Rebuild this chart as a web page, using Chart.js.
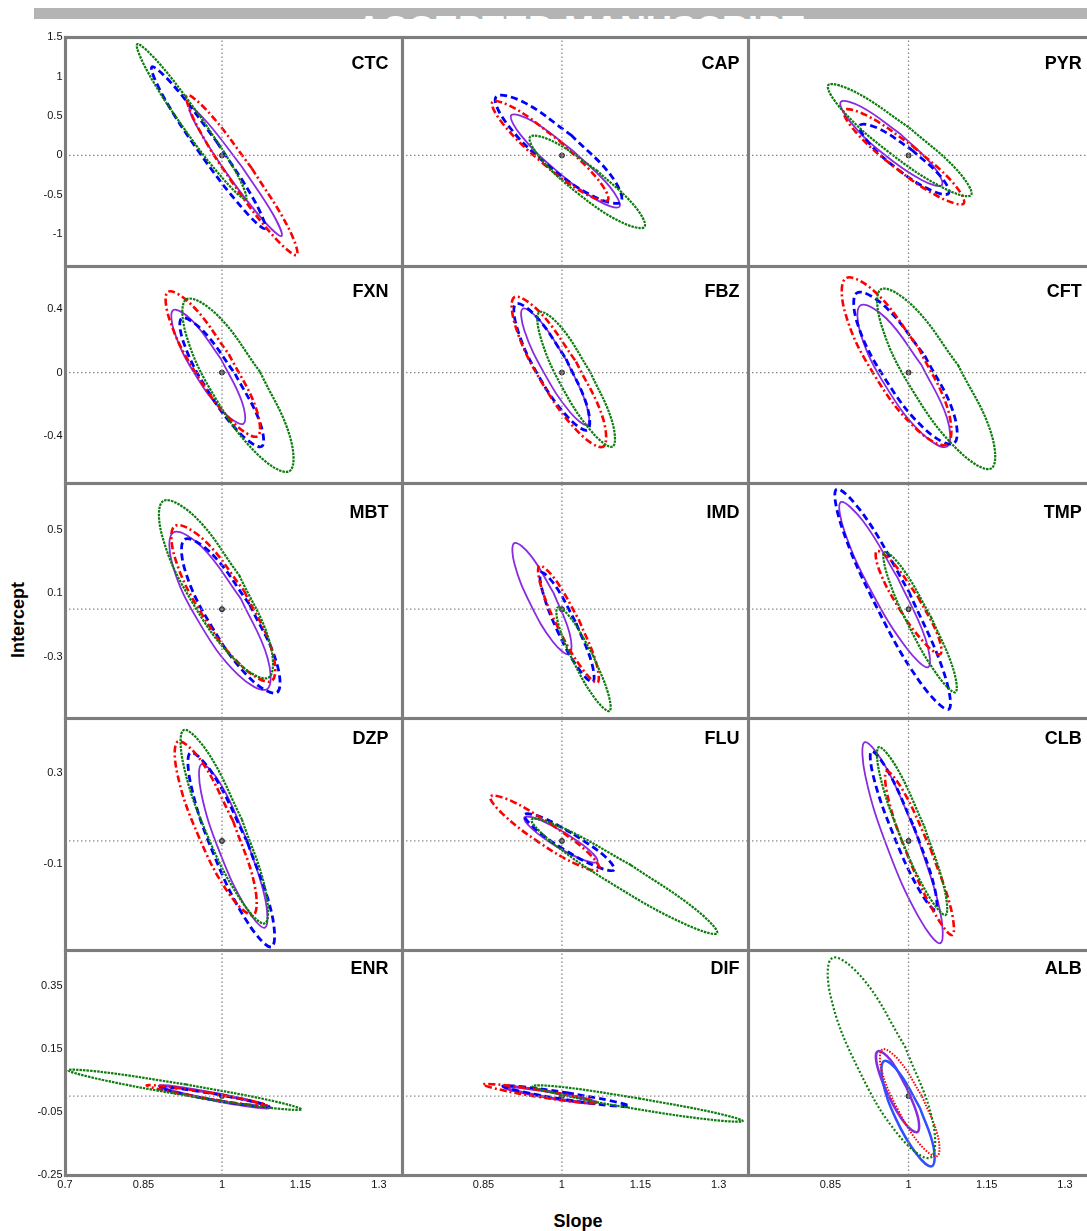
<!DOCTYPE html>
<html lang="en">
<head>
<meta charset="UTF-8" />
<title>Slope / intercept confidence ellipses</title>
<script src="https://cdn.jsdelivr.net/npm/chart.js@4.4.1/dist/chart.umd.min.js"></script>
<style>
  body { margin: 0; background: #ffffff; font-family: Arial, "Liberation Sans", sans-serif; }
  #page { position: relative; width: 1087px; height: 1231px; overflow: hidden; }
  #page canvas { position: absolute; z-index: 1; }
  .frame { position: absolute; background: #7d7d7d; box-shadow: 0 0 1px #b0b0b0; z-index: 3; }
  .panel-label { position: absolute; width: 100px; text-align: right; font-weight: bold; font-size: 18px; line-height: 18px; color: #000; z-index: 4; }
  .axis-title { position: absolute; font-weight: bold; font-size: 18px; line-height: 18px; color: #000; }
  #banner { position: absolute; left: 34px; top: 8px; width: 1053px; height: 11px; background: #b4b4b4; }
  #watermark { position: absolute; left: 0; width: 1160px; top: 12px; text-align: center; font-weight: bold; font-size: 36px; line-height: 36px; color: #fff; }
</style>
</head>
<body>
<div id="page">
  <div id="banner"></div>
  <div id="watermark">ACCEPTED MANUSCRIPT</div>
  <div class="axis-title" style="left:-22px; top:611px; width:80px; text-align:center; transform:rotate(-90deg);">Intercept</div>
  <div class="axis-title" style="left:528px; top:1212px; width:100px; text-align:center;">Slope</div>
</div>

<script>
// panels, left to right, top to bottom
const panelNames = ["CTC", "CAP", "PYR", "FXN", "FBZ", "CFT", "MBT", "IMD", "TMP", "DZP", "FLU", "CLB", "ENR", "DIF", "ALB"];

// axis ranges and ticks (x per column, y per row)
const xRanges = [[0.7, 1.344], [0.694, 1.356], [0.692, 1.35]];
const yRanges = [[-1.4, 1.5], [-0.7, 0.675], [-0.687, 0.797], [-0.479, 0.54], [-0.25, 0.463]];
const xTicks = [[0.7, 0.85, 1, 1.15, 1.3], [0.85, 1, 1.15, 1.3], [0.85, 1, 1.15, 1.3]];
const yTicks = [[-1, -0.5, 0, 0.5, 1, 1.5], [-0.4, 0, 0.4], [-0.3, 0.1, 0.5], [-0.1, 0.3], [-0.25, -0.05, 0.15, 0.35]];
const refPoint = [1, 0];

// ellipse outlines, one list of (slope, intercept) per panel
const greenEllipses = [
  [[0.958,0.501],[1.027,-0.215],[1.046,-0.553],[1.005,-0.317],[0.926,0.355],[0.857,1.071],[0.838,1.409],[0.879,1.174]],
  [[1.066,-0.185],[1.138,-0.632],[1.158,-0.904],[1.113,-0.843],[1.031,-0.483],[0.959,-0.037],[0.939,0.236],[0.984,0.175]],
  [[1.001,0.354],[1.093,-0.185],[1.120,-0.502],[1.067,-0.412],[0.964,0.033],[0.873,0.572],[0.846,0.890],[0.899,0.799]],
  [[1.073,0.003],[1.130,-0.407],[1.129,-0.625],[1.070,-0.525],[0.988,-0.165],[0.931,0.245],[0.932,0.464],[0.991,0.364]],
  [[1.054,0.005],[1.096,-0.310],[1.097,-0.469],[1.058,-0.379],[1.000,-0.091],[0.959,0.224],[0.957,0.383],[0.997,0.293]],
  [[1.095,0.047],[1.158,-0.379],[1.159,-0.607],[1.098,-0.502],[1.010,-0.126],[0.948,0.300],[0.947,0.527],[1.008,0.422]],
  [[1.033,0.214],[1.091,-0.207],[1.089,-0.432],[1.028,-0.330],[0.944,0.039],[0.886,0.459],[0.888,0.684],[0.949,0.582]],
  [[1.059,-0.288],[1.088,-0.527],[1.091,-0.643],[1.064,-0.567],[1.024,-0.344],[0.994,-0.105],[0.992,0.011],[1.019,-0.065]],
  [[1.043,-0.048],[1.085,-0.370],[1.090,-0.524],[1.056,-0.419],[1.002,-0.116],[0.960,0.206],[0.954,0.360],[0.989,0.255]],
  [[1.038,0.095],[1.083,-0.214],[1.082,-0.362],[1.036,-0.260],[0.971,0.030],[0.926,0.339],[0.927,0.487],[0.974,0.385]],
  [[1.132,-0.106],[1.254,-0.297],[1.297,-0.405],[1.236,-0.366],[1.107,-0.204],[0.985,-0.014],[0.942,0.094],[1.003,0.056]],
  [[1.030,0.065],[1.068,-0.202],[1.071,-0.325],[1.036,-0.232],[0.984,0.022],[0.945,0.289],[0.943,0.412],[0.978,0.319]],
  [[0.931,0.037],[1.088,-0.012],[1.152,-0.042],[1.086,-0.036],[0.928,0.003],[0.770,0.052],[0.706,0.082],[0.773,0.076]],
  [[1.147,-0.007],[1.288,-0.051],[1.346,-0.079],[1.286,-0.075],[1.143,-0.041],[1.002,0.003],[0.944,0.032],[1.005,0.028]],
  [[0.993,0.158],[1.046,-0.077],[1.042,-0.195],[0.983,-0.128],[0.904,0.085],[0.850,0.320],[0.854,0.438],[0.913,0.371]]
];

const redEllipses = [
  [[1.057,-0.163],[1.126,-0.904],[1.143,-1.262],[1.099,-1.026],[1.019,-0.335],[0.950,0.406],[0.933,0.764],[0.977,0.528]],
  [[0.994,0.191],[1.067,-0.288],[1.088,-0.566],[1.043,-0.479],[0.960,-0.079],[0.887,0.401],[0.867,0.678],[0.911,0.592]],
  [[1.007,0.123],[1.084,-0.336],[1.106,-0.608],[1.061,-0.534],[0.975,-0.157],[0.898,0.302],[0.876,0.574],[0.922,0.499]],
  [[1.013,0.117],[1.065,-0.226],[1.068,-0.404],[1.021,-0.315],[0.951,-0.009],[0.900,0.333],[0.897,0.512],[0.944,0.422]],
  [[1.027,0.069],[1.078,-0.285],[1.079,-0.469],[1.031,-0.376],[0.961,-0.060],[0.911,0.294],[0.909,0.478],[0.957,0.385]],
  [[1.019,0.157],[1.076,-0.240],[1.074,-0.455],[1.016,-0.361],[0.934,-0.014],[0.878,0.383],[0.880,0.598],[0.938,0.504]],
  [[1.042,0.117],[1.095,-0.253],[1.095,-0.453],[1.040,-0.366],[0.964,-0.044],[0.910,0.326],[0.910,0.526],[0.965,0.439]],
  [[1.032,-0.064],[1.065,-0.333],[1.068,-0.463],[1.039,-0.377],[0.994,-0.126],[0.960,0.144],[0.957,0.274],[0.987,0.188]],
  [[1.018,0.078],[1.056,-0.163],[1.061,-0.284],[1.031,-0.215],[0.982,0.004],[0.944,0.245],[0.939,0.366],[0.969,0.297]],
  [[1.021,0.089],[1.062,-0.190],[1.060,-0.325],[1.015,-0.237],[0.955,0.022],[0.914,0.302],[0.916,0.437],[0.961,0.349]],
  [[0.979,0.075],[1.050,-0.051],[1.072,-0.127],[1.033,-0.108],[0.956,-0.006],[0.886,0.120],[0.863,0.195],[0.902,0.177]],
  [[1.042,-0.034],[1.081,-0.294],[1.084,-0.413],[1.051,-0.322],[1.000,-0.074],[0.961,0.186],[0.958,0.306],[0.991,0.215]],
  [[0.972,0.012],[1.053,-0.014],[1.085,-0.029],[1.051,-0.027],[0.970,-0.007],[0.889,0.018],[0.856,0.034],[0.891,0.031]],
  [[0.960,0.019],[1.037,-0.005],[1.068,-0.021],[1.036,-0.020],[0.957,-0.003],[0.880,0.021],[0.849,0.037],[0.882,0.036]],
  [[1.026,-0.001],[1.056,-0.126],[1.055,-0.190],[1.023,-0.155],[0.979,-0.041],[0.948,0.084],[0.950,0.148],[0.982,0.113]]
];

const blueEllipses = [
  [[0.990,0.172],[1.062,-0.573],[1.082,-0.924],[1.040,-0.675],[0.958,0.026],[0.886,0.771],[0.866,1.122],[0.909,0.873]],
  [[1.017,0.261],[1.095,-0.263],[1.113,-0.587],[1.062,-0.523],[0.970,-0.107],[0.893,0.417],[0.874,0.742],[0.926,0.677]],
  [[1.006,0.072],[1.062,-0.269],[1.077,-0.481],[1.042,-0.439],[0.978,-0.169],[0.922,0.172],[0.907,0.383],[0.942,0.342]],
  [[1.025,-0.008],[1.072,-0.311],[1.076,-0.468],[1.035,-0.387],[0.973,-0.116],[0.927,0.187],[0.923,0.344],[0.964,0.263]],
  [[1.008,0.086],[1.048,-0.212],[1.049,-0.364],[1.011,-0.282],[0.954,-0.014],[0.914,0.284],[0.912,0.436],[0.951,0.354]],
  [[1.031,0.107],[1.086,-0.253],[1.087,-0.449],[1.033,-0.364],[0.957,-0.050],[0.902,0.310],[0.901,0.505],[0.954,0.421]],
  [[1.053,0.029],[1.104,-0.334],[1.105,-0.526],[1.053,-0.435],[0.981,-0.113],[0.929,0.250],[0.929,0.442],[0.980,0.351]],
  [[1.027,-0.087],[1.057,-0.339],[1.059,-0.459],[1.032,-0.377],[0.992,-0.141],[0.963,0.112],[0.960,0.232],[0.987,0.150]],
  [[1.000,0.115],[1.067,-0.392],[1.077,-0.632],[1.023,-0.465],[0.939,0.012],[0.872,0.518],[0.862,0.758],[0.915,0.591]],
  [[1.049,-0.008],[1.095,-0.318],[1.095,-0.465],[1.050,-0.362],[0.986,-0.069],[0.941,0.242],[0.940,0.388],[0.985,0.285]],
  [[1.023,0.029],[1.082,-0.067],[1.100,-0.127],[1.069,-0.115],[1.005,-0.039],[0.947,0.057],[0.928,0.116],[0.960,0.105]],
  [[1.010,0.064],[1.048,-0.188],[1.052,-0.303],[1.020,-0.214],[0.971,0.027],[0.933,0.279],[0.929,0.394],[0.961,0.305]],
  [[0.986,0.007],[1.059,-0.017],[1.089,-0.032],[1.058,-0.030],[0.984,-0.012],[0.911,0.012],[0.882,0.027],[0.912,0.025]],
  [[1.009,0.011],[1.094,-0.015],[1.129,-0.032],[1.093,-0.030],[1.007,-0.011],[0.921,0.015],[0.887,0.032],[0.923,0.030]],
  [[1.022,-0.038],[1.048,-0.161],[1.045,-0.222],[1.016,-0.185],[0.976,-0.073],[0.950,0.050],[0.953,0.111],[0.982,0.074]]
];

const purpleEllipses = [
  [[1.038,-0.144],[1.097,-0.739],[1.114,-1.021],[1.079,-0.823],[1.013,-0.262],[0.955,0.333],[0.938,0.615],[0.972,0.417]],
  [[1.022,0.055],[1.091,-0.392],[1.110,-0.650],[1.068,-0.569],[0.990,-0.196],[0.922,0.251],[0.903,0.510],[0.945,0.429]],
  [[0.983,0.279],[1.047,-0.131],[1.064,-0.376],[1.025,-0.311],[0.951,0.024],[0.887,0.434],[0.870,0.678],[0.910,0.614]],
  [[0.998,0.086],[1.038,-0.184],[1.041,-0.324],[1.004,-0.254],[0.949,-0.014],[0.909,0.256],[0.907,0.396],[0.944,0.326]],
  [[1.009,0.076],[1.046,-0.196],[1.049,-0.332],[1.016,-0.253],[0.966,-0.004],[0.928,0.268],[0.925,0.404],[0.959,0.325]],
  [[1.025,0.047],[1.074,-0.289],[1.074,-0.469],[1.026,-0.387],[0.957,-0.091],[0.908,0.246],[0.908,0.426],[0.957,0.344]],
  [[1.036,0.067],[1.087,-0.306],[1.086,-0.505],[1.031,-0.415],[0.957,-0.088],[0.905,0.285],[0.907,0.485],[0.961,0.395]],
  [[0.984,0.103],[1.015,-0.156],[1.014,-0.284],[0.983,-0.207],[0.940,0.030],[0.909,0.288],[0.909,0.417],[0.940,0.340]],
  [[0.979,0.199],[1.032,-0.182],[1.038,-0.366],[0.996,-0.245],[0.929,0.110],[0.877,0.492],[0.870,0.676],[0.913,0.555]],
  [[1.048,0.002],[1.083,-0.259],[1.082,-0.381],[1.046,-0.293],[0.995,-0.046],[0.960,0.214],[0.961,0.337],[0.998,0.248]],
  [[1.006,0.036],[1.053,-0.042],[1.068,-0.091],[1.042,-0.084],[0.990,-0.025],[0.943,0.053],[0.928,0.103],[0.954,0.096]],
  [[1.017,0.018],[1.060,-0.302],[1.061,-0.449],[1.020,-0.337],[0.960,-0.033],[0.917,0.287],[0.916,0.434],[0.957,0.322]],
  [[0.988,0.008],[1.063,-0.019],[1.093,-0.037],[1.061,-0.034],[0.985,-0.013],[0.910,0.014],[0.880,0.032],[0.912,0.029]],
  [[0.977,0.014],[1.040,-0.007],[1.065,-0.021],[1.039,-0.020],[0.975,-0.005],[0.912,0.016],[0.887,0.030],[0.913,0.029]],
  [[0.996,0.028],[1.018,-0.067],[1.017,-0.114],[0.993,-0.086],[0.962,0.000],[0.940,0.095],[0.941,0.142],[0.965,0.115]]
];

// line styles
const seriesStyles = {
  green: { color: "#0b7d0b", width: 2.2, dash: [2.5, 1] },
  red: { color: "#ff0000", width: 2.6, dash: [7, 3, 2, 3] },
  blue: { color: "#0000ff", width: 2.8, dash: [7, 4] },
  purple: { color: "#8a2be2", width: 1.8, dash: [] }
};
const styleOverrides = {
  ALB: { green: { dash: [2, 2] }, red: { dash: [1.5, 1.5], width: 2 }, blue: { dash: [], width: 2.5, color: "#3050ff" }, purple: { width: 2.5 } },
  ENR: { purple: { width: 3 } },
  DIF: { purple: { width: 3 } }
};

// page layout (pixels)
const colLeft = [65, 402, 748];
const colRight = [402, 748, 1091];
const rowTop = [37, 266, 483, 718, 950];
const rowBottom = [266, 483, 718, 950, 1175];
const labelCapTop = [56.7, 284, 505.5, 731.5, 961.7];
const labelRight = [388.5, 739.5, 1081.7];
const M = 12, padL = 46, padB = 24;

const page = document.getElementById("page");

function fmt(v) {
  return String(Math.round(v * 1000) / 1000);
}

function ellipseDataset(points, st) {
  const data = points.map((p) => ({ x: p[0], y: p[1] }));
  data.push({ x: points[0][0], y: points[0][1] }); // close the loop
  return {
    data: data,
    borderColor: st.color,
    borderWidth: st.width,
    borderDash: st.dash,
    pointRadius: 0,
    tension: 0.4,
    fill: false
  };
}

function styleFor(name, key) {
  return Object.assign({}, seriesStyles[key], (styleOverrides[name] || {})[key] || {});
}

panelNames.forEach((name, i) => {
  const r = Math.floor(i / 3);
  const c = i % 3;
  const showY = c === 0;
  const showX = r === 4;
  const w = colRight[c] - colLeft[c];
  const h = rowBottom[r] - rowTop[r];
  const L = showY ? padL : 0;
  const B = showX ? padB : 0;

  const cv = document.createElement("canvas");
  cv.width = w + 2 * M + L;
  cv.height = h + 2 * M + B;
  cv.style.left = colLeft[c] - M - L + "px";
  cv.style.top = rowTop[r] - M + "px";
  page.appendChild(cv);

  const xr = xRanges[c];
  const yr = yRanges[r];
  const refStyle = { borderColor: "#8a8a8a", borderWidth: 1.3, borderDash: [1.5, 2.5], pointRadius: 0, tension: 0 };

  const datasets = [
    Object.assign({ data: [{ x: refPoint[0], y: yr[0] }, { x: refPoint[0], y: yr[1] }] }, refStyle),
    Object.assign({ data: [{ x: xr[0], y: refPoint[1] }, { x: xr[1], y: refPoint[1] }] }, refStyle),
    ellipseDataset(greenEllipses[i], styleFor(name, "green")),
    ellipseDataset(redEllipses[i], styleFor(name, "red")),
    ellipseDataset(blueEllipses[i], styleFor(name, "blue")),
    ellipseDataset(purpleEllipses[i], styleFor(name, "purple")),
    {
      data: [{ x: refPoint[0], y: refPoint[1] }],
      showLine: false,
      pointRadius: 2.5,
      pointBackgroundColor: "#666",
      pointBorderColor: "#222",
      pointBorderWidth: 1
    }
  ];

  const tickFont = { family: "Arial, 'Liberation Sans', sans-serif", size: 11 };

  new Chart(cv, {
    type: "line",
    data: { datasets: datasets },
    options: {
      responsive: false,
      animation: false,
      layout: { padding: M },
      plugins: { legend: { display: false }, tooltip: { enabled: false } },
      scales: {
        x: {
          type: "linear",
          min: xr[0],
          max: xr[1],
          display: showX,
          grid: { display: false, drawTicks: false },
          border: { display: false },
          afterBuildTicks: (ax) => { ax.ticks = xTicks[c].map((v) => ({ value: v })); },
          afterFit: (ax) => { ax.height = showX ? padB : 0; },
          ticks: { padding: 3, color: "#111", font: tickFont, maxRotation: 0, autoSkip: false, callback: (v) => fmt(v) }
        },
        y: {
          type: "linear",
          min: yr[0],
          max: yr[1],
          display: showY,
          grid: { display: false, drawTicks: false },
          border: { display: false },
          afterBuildTicks: (ax) => { ax.ticks = yTicks[r].map((v) => ({ value: v })); },
          afterFit: (ax) => { ax.width = showY ? padL : 0; },
          ticks: { padding: 2.5, color: "#111", font: tickFont, autoSkip: false, callback: (v) => fmt(v) }
        }
      }
    }
  });

  const lab = document.createElement("div");
  lab.className = "panel-label";
  lab.textContent = name;
  lab.style.left = labelRight[c] - 100 + "px";
  lab.style.top = labelCapTop[r] - 2.3 + "px";
  page.appendChild(lab);
});

// panel frames
[65, 402, 748].forEach((x) => {
  const d = document.createElement("div");
  d.className = "frame";
  d.style.left = x - 1.5 + "px";
  d.style.top = "35.5px";
  d.style.width = "3px";
  d.style.height = 1176.5 - 35.5 + "px";
  page.appendChild(d);
});
rowTop.concat([1175]).forEach((y) => {
  const d = document.createElement("div");
  d.className = "frame";
  d.style.left = "63.5px";
  d.style.top = y - 1.5 + "px";
  d.style.width = 1087 - 63.5 + "px";
  d.style.height = "3px";
  page.appendChild(d);
});
</script>
</body>
</html>
